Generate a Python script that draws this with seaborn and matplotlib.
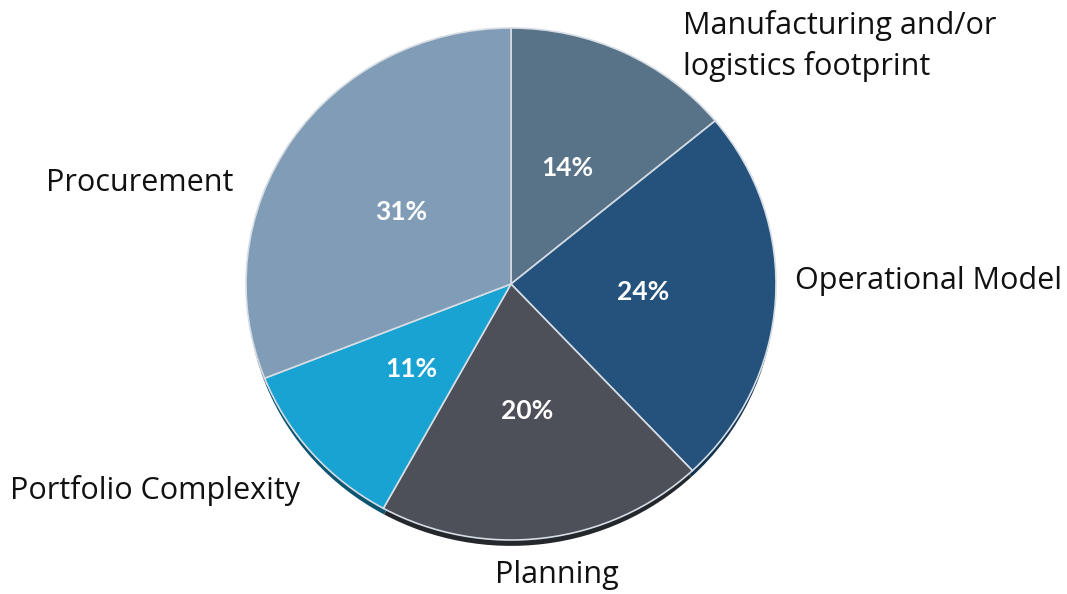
import matplotlib
matplotlib.use('Agg')
from matplotlib import pyplot as plt
import seaborn as sns

# slices, clockwise from 12 o'clock
categories = ['Manufacturing and/or\nlogistics footprint', 'Operational Model', 'Planning',
              'Portfolio Complexity', 'Procurement']
shares = [14, 24, 20, 11, 31]
colors = ['#587287', '#24527c', '#4d5058', '#19a3d2', '#809cb6']
shadow_colors = ['#3a4b59', '#153450', '#24272b', '#0c5570', '#566b7e']

# where each category label sits (pie radius units) and how it is aligned
label_pos = [(0.649, 0.93), (1.072, 0.01), (0.174, -1.137), (-0.796, -0.805), (-1.049, 0.395)]
label_ha = ['left', 'left', 'center', 'right', 'right']

sns.set_theme(style='white')
plt.rcParams['font.family'] = ['Open Sans', 'DejaVu Sans']

fig = plt.figure(figsize=(10.67, 5.94), dpi=100)
ax = fig.add_axes([0, 0, 1, 1])

# dark rim under the pie, gives the slight 3D look
ax.pie(shares, colors=shadow_colors, startangle=90, counterclock=False,
       center=(0, -0.028), radius=0.995, wedgeprops=dict(linewidth=0))

wedges, texts, autotexts = ax.pie(
    shares, labels=categories, colors=colors, startangle=90, counterclock=False,
    autopct='%.0f%%', pctdistance=0.5,
    wedgeprops=dict(linewidth=1.2, edgecolor='#d6dde4'),
    textprops=dict(fontsize=22, color='#111111'))

for t, pos, ha in zip(texts, label_pos, label_ha):
    t.set_position(pos)
    t.set_ha(ha)
    t.set_va('center')
    t.set_linespacing(1.4)

for t in autotexts:
    t.set_color('white')
    t.set_fontweight('bold')
    t.set_fontsize(19)
    t.set_fontfamily(['Lato', 'DejaVu Sans'])

ax.set_aspect('auto')
ax.set_xlim(-511 / 265, (1067 - 511) / 265)
ax.set_ylim((284 - 594) / 256, 284 / 256)
ax.axis('off')

fig.savefig('out.png', dpi=100, facecolor='white')
